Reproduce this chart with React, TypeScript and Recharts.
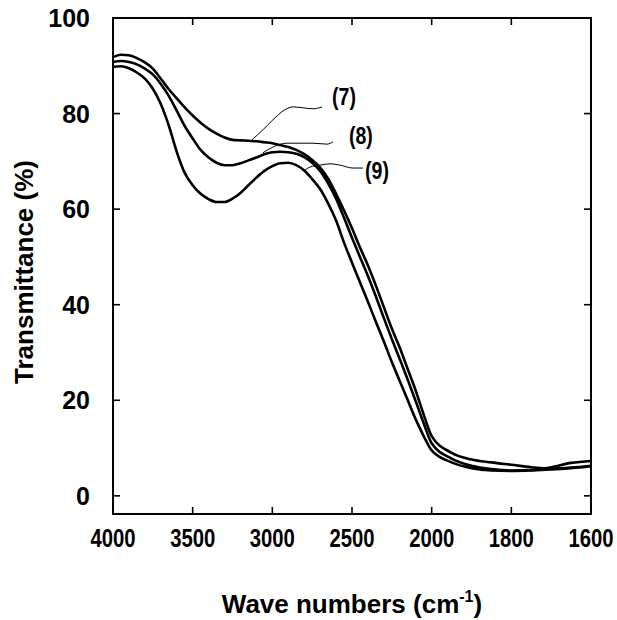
import React from "react";
import { LineChart, Line, XAxis, YAxis, ReferenceArea, ReferenceDot } from "recharts";

// wave numbers (cm-1) shared by the three spectra
const waveNumbers = [
  4000, 3950, 3900, 3850, 3800, 3750, 3700, 3650, 3600, 3550,
  3500, 3450, 3400, 3350, 3300, 3250, 3200, 3150, 3100, 3050,
  3000, 2950, 2900, 2850, 2800, 2750, 2700, 2650, 2600, 2550,
  2500, 2450, 2400, 2350, 2300, 2250, 2200, 2150, 2100, 2050,
  2000, 1950, 1900, 1850, 1800, 1750, 1700, 1650, 1600,
];

const spectrum7 = [
  91.8, 92.3, 92.2, 91.6, 90.7, 89.4, 87.3, 85.1, 83.2, 81.3,
  79.6, 78.1, 76.8, 75.8, 75.0, 74.5, 74.4, 74.3, 74.2, 74.0,
  73.8, 73.4, 73.0, 72.4, 71.5, 70.3, 68.7, 66.4, 63.2, 59.7,
  56.0, 52.0, 48.2, 44.0, 39.5, 35.0, 31.0, 26.5, 22.0, 17.0,
  12.5, 9.0, 7.6, 7.0, 6.5, 6.0, 5.7, 5.9, 6.3,
];

const spectrum8 = [
  90.8, 91.0, 90.8, 90.3, 89.4, 88.2, 86.2, 83.7, 80.6, 77.4,
  74.8, 72.4, 70.8, 69.7, 69.2, 69.2, 69.6, 70.2, 70.8, 71.5,
  71.9, 72.0, 71.9, 71.6, 70.9, 69.7, 68.0, 65.4, 62.2, 58.2,
  54.0, 50.0, 46.0, 41.7, 37.2, 32.8, 28.6, 24.3, 19.8, 15.2,
  11.0, 7.8, 6.3, 5.6, 5.3, 5.4, 6.0, 6.9, 7.3,
];

const spectrum9 = [
  89.8, 89.9, 89.5, 88.6, 87.3, 85.2, 82.0, 77.5, 72.0, 67.6,
  65.0, 63.2, 62.1, 61.5, 61.5, 62.2, 63.4, 65.0, 66.6, 68.0,
  69.0, 69.6, 69.7, 69.2, 68.1, 66.3, 64.2, 61.2, 57.6, 53.0,
  48.8, 44.7, 40.6, 36.4, 32.3, 28.0, 24.0, 20.0, 16.0, 12.5,
  9.5, 7.0, 5.8, 5.3, 5.2, 5.3, 5.5, 5.8, 6.2,
];

// leader lines from the labels to the curves
const leader7Wave = [3128, 3059, 2996, 2921, 2870, 2808, 2745, 2688];
const leader7T = [74.5, 76.6, 78.7, 80.8, 81.4, 81.2, 81.0, 81.4];
const leader8Wave = [3059, 2996, 2908, 2826, 2745, 2657, 2619];
const leader8T = [71.8, 73.0, 73.8, 73.8, 73.8, 73.6, 74.1];
const leader9Wave = [2795, 2764, 2701, 2638, 2575, 2494, 2431];
const leader9T = [68.2, 68.8, 69.2, 69.5, 69.2, 68.6, 68.6];

const curveLabels = ["(7)", "(8)", "(9)"];
const labelWave = [2550, 2444, 2343];
const labelT = [83.4, 75.3, 68.0];

const xTickWaves = [4000, 3500, 3000, 2500, 2000, 1800, 1600];
const xTickLabels = ["4000", "3500", "3000", "2500", "2000", "1800", "1600"];
const yTicks = [0, 20, 40, 60, 80, 100];

// the axis changes scale at 2000 cm-1 (500 per division above, 200 below)
const toAxis = (w: number) => (w >= 2000 ? (4000 - w) / 500 : 4 + (2000 - w) / 200);

const toSeries = (w: number[], t: number[]) => w.map((v, i) => ({ u: toAxis(v), t: t[i] }));

const data7 = toSeries(waveNumbers, spectrum7);
const data8 = toSeries(waveNumbers, spectrum8);
const data9 = toSeries(waveNumbers, spectrum9);
const lead7 = toSeries(leader7Wave, leader7T);
const lead8 = toSeries(leader8Wave, leader8T);
const lead9 = toSeries(leader9Wave, leader9T);
const xTicks = xTickWaves.map(toAxis);

const W = 617;
const H = 620;
const PLOT_TOP = 18;
const PLOT_RIGHT = 591;
const TICK = 7;
const FONT = "'Liberation Sans', Arial, Helvetica, sans-serif";

const XTick = (props: any) => {
  const { x, y, payload } = props;
  const i = xTicks.findIndex((v) => Math.abs(v - payload.value) < 1e-6);
  return (
    <g>
      <line x1={x} y1={y} x2={x} y2={y - TICK} stroke="#000" strokeWidth={1.6} />
      <line x1={x} y1={PLOT_TOP} x2={x} y2={PLOT_TOP + TICK} stroke="#000" strokeWidth={1.6} />
      <text
        transform={`translate(${x},${y + 33}) scale(0.78,1)`}
        textAnchor="middle"
        fontFamily={FONT}
        fontWeight="bold"
        fontSize={26}
        fill="#000"
      >
        {xTickLabels[i]}
      </text>
    </g>
  );
};

const YTick = (props: any) => {
  const { x, y, payload } = props;
  return (
    <g>
      <line x1={x} y1={y} x2={x + TICK} y2={y} stroke="#000" strokeWidth={1.6} />
      <line x1={PLOT_RIGHT} y1={y} x2={PLOT_RIGHT - TICK} y2={y} stroke="#000" strokeWidth={1.6} />
      <text
        x={x - 23}
        y={y + 9}
        textAnchor="end"
        fontFamily={FONT}
        fontWeight="bold"
        fontSize={25}
        fill="#000"
      >
        {payload.value}
      </text>
    </g>
  );
};

const XTitle = (props: any) => {
  const vb = props.viewBox || {};
  const cx = vb.x + vb.width / 2;
  const by = vb.y + vb.height - 7;
  return (
    <text x={cx} y={by} textAnchor="middle" fontFamily={FONT} fontWeight="bold" fontSize={26} fill="#000">
      Wave numbers (cm
      <tspan dy={-11} fontSize={16}>-1</tspan>
      <tspan dy={11}>)</tspan>
    </text>
  );
};

const YTitle = (props: any) => {
  const vb = props.viewBox || {};
  const cy = vb.y + vb.height / 2 + 6;
  const bx = 33;
  return (
    <text
      x={bx}
      y={cy}
      transform={`rotate(-90 ${bx} ${cy})`}
      textAnchor="middle"
      fontFamily={FONT}
      fontWeight="bold"
      fontSize={26}
      fill="#000"
    >
      Transmittance (%)
    </text>
  );
};

const CurveLabel = (text: string) => (props: any) => (
  <text
    transform={`translate(${props.cx},${props.cy + 8}) scale(0.85,1)`}
    textAnchor="middle"
    fontFamily={FONT}
    fontWeight="bold"
    fontSize={23}
    fill="#000"
  >
    {text}
  </text>
);

export default function App() {
  return (
    <div style={{ position: "absolute", left: 0, top: 0, background: "#fff" }}>
      <LineChart width={W} height={H} margin={{ top: PLOT_TOP, right: W - PLOT_RIGHT, bottom: 0, left: 0 }}>
        <XAxis
          type="number"
          dataKey="u"
          domain={[0, 6]}
          ticks={xTicks}
          interval={0}
          height={106}
          axisLine={false}
          tickLine={false}
          tickSize={0}
          tickMargin={0}
          tick={<XTick />}
          label={<XTitle />}
        />
        <YAxis
          type="number"
          dataKey="t"
          domain={[-3.8, 100]}
          ticks={yTicks}
          interval={0}
          width={113}
          axisLine={false}
          tickLine={false}
          tickSize={0}
          tickMargin={0}
          tick={<YTick />}
          label={<YTitle />}
        />
        <ReferenceArea x1={0} x2={6} y1={-3.8} y2={100} stroke="#000" strokeWidth={2} fill="none" fillOpacity={0} />
        <Line data={lead7} dataKey="t" type="monotone" stroke="#000" strokeWidth={1} dot={false} activeDot={false} isAnimationActive={false} />
        <Line data={lead8} dataKey="t" type="monotone" stroke="#000" strokeWidth={1} dot={false} activeDot={false} isAnimationActive={false} />
        <Line data={lead9} dataKey="t" type="monotone" stroke="#000" strokeWidth={1} dot={false} activeDot={false} isAnimationActive={false} />
        <Line data={data7} dataKey="t" type="monotone" stroke="#000" strokeWidth={2.6} dot={false} activeDot={false} isAnimationActive={false} />
        <Line data={data8} dataKey="t" type="monotone" stroke="#000" strokeWidth={2.6} dot={false} activeDot={false} isAnimationActive={false} />
        <Line data={data9} dataKey="t" type="monotone" stroke="#000" strokeWidth={2.6} dot={false} activeDot={false} isAnimationActive={false} />
        {curveLabels.map((txt, i) => (
          <ReferenceDot key={txt} x={toAxis(labelWave[i])} y={labelT[i]} r={0} shape={CurveLabel(txt)} />
        ))}
      </LineChart>
    </div>
  );
}
